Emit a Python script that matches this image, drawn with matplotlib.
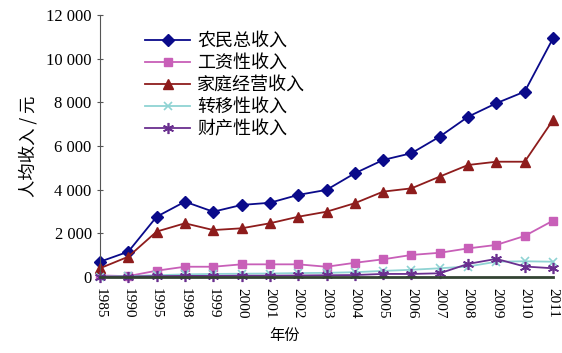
import matplotlib
matplotlib.use("Agg")
import matplotlib.pyplot as plt
from matplotlib.ticker import FuncFormatter

years = ["1985", "1990", "1995", "1998", "1999", "2000", "2001", "2002", "2003",
         "2004", "2005", "2006", "2007", "2008", "2009", "2010", "2011"]
total = [700, 1160, 2760, 3450, 2990, 3300, 3400, 3760, 3990, 4750, 5360, 5670,
         6430, 7340, 7960, 8490, 10930]
wage = [70, 40, 290, 470, 470, 580, 580, 580, 470, 650, 810, 1010, 1110, 1310,
        1470, 1880, 2580]
family = [400, 930, 2080, 2460, 2150, 2230, 2460, 2760, 2990, 3380, 3910, 4060,
          4600, 5130, 5280, 5280, 7190]
transfer = [20, 40, 80, 120, 140, 150, 160, 180, 190, 220, 280, 330, 400, 480,
            700, 720, 700]
property_ = [10, 20, 40, 50, 50, 60, 60, 70, 80, 90, 140, 140, 170, 600, 830,
             480, 400]
labels = ["农民总收入", "工资性收入", "家庭经营收入", "转移性收入", "财产性收入"]
yticks = [0, 2000, 4000, 6000, 8000, 10000, 12000]

cjk = ["Noto Sans CJK SC", "DejaVu Sans"]
serif = ["Liberation Serif", "DejaVu Serif"]

fig = plt.figure(figsize=(5.62, 3.53), dpi=100)
ax = fig.add_axes([100/562, 1-277/353, (553-100)/562, (277-15)/353])

x = list(range(len(years)))
series = [
    (total, "#0a0a8a", "D", 6, {}),
    (wage, "#c85fb8", "s", 6, {}),
    (family, "#8e1c1c", "^", 7, {}),
    (transfer, "#8fd3d3", "x", 6, {"markeredgewidth": 1.2}),
    (property_, "#6a2f8f", (6, 2, 0), 8, {"markeredgewidth": 1.2}),
]
for (vals, col, mk, ms, kw), lab in zip(series, labels):
    ax.plot(x, vals, color=col, marker=mk, markersize=ms, linewidth=1.3,
            label=lab, clip_on=False, **kw)

ax.set_xlim(0, len(years)-1)
ax.set_ylim(0, 12000)
ax.set_yticks(yticks)
ax.yaxis.set_major_formatter(FuncFormatter(lambda v, p: f"{int(v):,}".replace(",", " ")))
ax.set_xticks(x)
ax.set_xticklabels(years, rotation=-90, family=serif, fontsize=11)
for t in ax.get_yticklabels():
    t.set_family(serif)
    t.set_fontsize(12)
ax.tick_params(axis="y", direction="inout", length=4, color="#555555", pad=4)
ax.tick_params(axis="x", length=0, pad=8)
for s in ["top", "right"]:
    ax.spines[s].set_visible(False)
ax.spines["left"].set_color("#555555")
ax.spines["bottom"].set_color("#334433")
ax.spines["bottom"].set_linewidth(2)

ax.set_ylabel("人均收入 / 元", family=cjk, fontsize=12.5, labelpad=6)
fig.text(285/562, 1-335/353, "年份", family=cjk, fontsize=11, ha="center", va="center")

leg = ax.legend(loc="upper left", bbox_to_anchor=(145/562, 1-32/353),
                bbox_transform=fig.transFigure, frameon=False, prop={"family": cjk, "size": 13},
                borderpad=0, borderaxespad=0, labelspacing=0.22, handlelength=2.5,
                handletextpad=0.4)

fig.savefig("out.png", dpi=100)
